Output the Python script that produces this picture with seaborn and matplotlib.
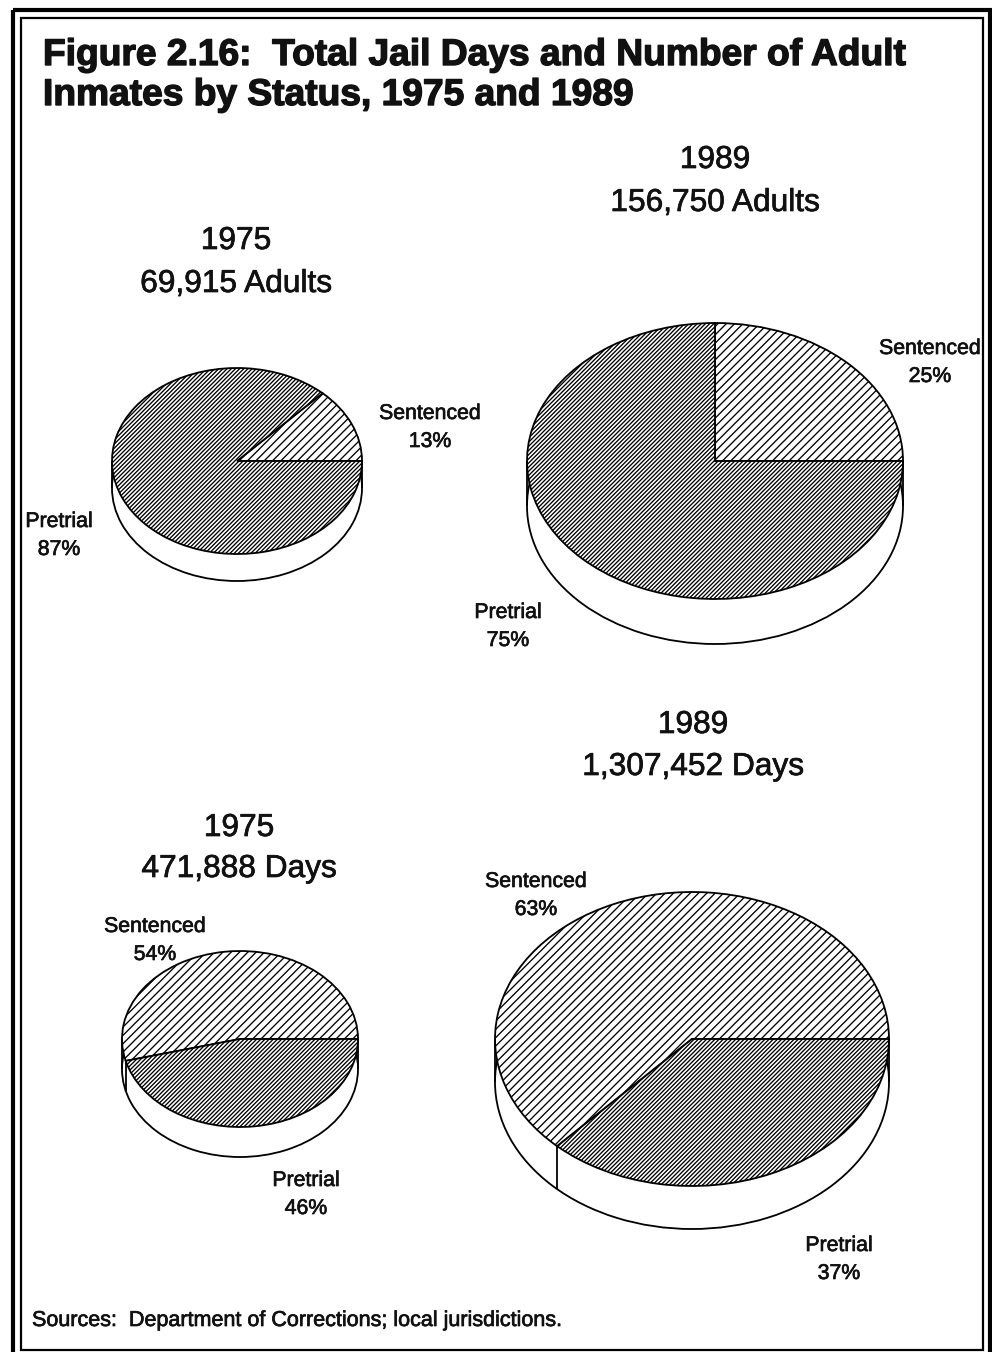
"""
Figure 2.16: jail days and adult inmates by status, 1975 and 1989
"""

import matplotlib

matplotlib.use("Agg")
import matplotlib.patheffects as pe
import matplotlib.pyplot as plt
import numpy as np
import seaborn as sns
from matplotlib.patches import Rectangle

# Data
status = ["Sentenced", "Pretrial"]
adults_1975_share = [13, 87]
adults_1989_share = [25, 75]
days_1975_share = [54, 46]
days_1989_share = [63, 37]
adults_1975_total = 69915
adults_1989_total = 156750
days_1975_total = 471888
days_1989_total = 1307452

title_lines = [
    "Figure 2.16:  Total Jail Days and Number of Adult",
    "Inmates by Status, 1975 and 1989",
]
source_note = "Sources:  Department of Corrections; local jurisdictions."

W, H = 992, 1352
FONT = "Liberation Sans"
INK = "#111111"

sns.set_theme(style="white")
plt.rcParams["font.family"] = [FONT, "DejaVu Sans"]
plt.rcParams["hatch.linewidth"] = 0.95

fig = plt.figure(figsize=(W / 100, H / 100), dpi=100, facecolor="white")

# Page axes in pixel units, for the frame and the text
page = fig.add_axes([0, 0, 1, 1], zorder=0)
page.set_xlim(0, W)
page.set_ylim(H, 0)
page.axis("off")

# scanned text looks a little heavier than the plain font
thick = [pe.withStroke(linewidth=0.5, foreground=INK)]
thick_title = [pe.withStroke(linewidth=1.0, foreground=INK)]


def draw_pie(values, cx, cy, rx, ry, depth):
    """Flat pie with a white rim below it, squashed to an ellipse"""
    ax = fig.add_axes(
        [(cx - rx) / W, 1 - (cy + ry) / H, 2 * rx / W, 2 * ry / H],
        zorder=1,
    )
    ax.patch.set_alpha(0)
    drop = depth / ry
    edge = {"edgecolor": "black", "linewidth": 1.3, "clip_on": False}

    # rim first, then the top of the pie over it
    ax.pie([1], center=(0, -drop), colors=["white"], wedgeprops=edge)
    ax.vlines([-1, 1], -drop, 0, color="black", lw=1.3, clip_on=False)
    angles = np.cumsum(values) / np.sum(values) * 2 * np.pi
    for angle in angles[:-1]:
        if np.sin(angle) < 0:
            y = np.sin(angle)
            ax.vlines(np.cos(angle), y - drop, y, color="black", lw=1.3, clip_on=False)
    wedges, _ = ax.pie(
        values,
        colors=["white", "white"],
        hatch=["////", "////////"],
        startangle=0,
        wedgeprops=edge,
    )
    ax.set_aspect("auto")
    ax.set_xlim(-1, 1)
    ax.set_ylim(-1, 1)
    ax.axis("off")
    return wedges


def heading(x, y, year, total, unit, gap=43):
    page.text(x, y, f"{year}", ha="center", va="baseline", fontsize=22.8,
              color=INK, path_effects=thick)
    page.text(x, y + gap, f"{total:,} {unit}", ha="center", va="baseline",
              fontsize=22.8, color=INK, path_effects=thick)


def label(x, y, name, share):
    page.text(x, y, name, ha="center", va="baseline", fontsize=15.3, color=INK,
              path_effects=thick)
    page.text(x, y + 28, f"{share}%", ha="center", va="baseline", fontsize=15.3,
              color=INK, path_effects=thick)


# Frame, the outer one runs off the bottom of the page
page.add_patch(Rectangle((13, 10), 977, 1360, fill=False, ec="black", lw=3))
page.add_patch(Rectangle((21, 18), 962, 1332, fill=False, ec="black", lw=1.6))

# Title and source
for line, y in zip(title_lines, [65, 105]):
    page.text(43, y, line, fontsize=26.75, fontweight="bold", va="baseline",
              color=INK, path_effects=thick_title)
page.text(32, 1326, source_note, fontsize=15.5, va="baseline", color=INK,
          path_effects=thick)

# Pies
draw_pie(adults_1975_share, 237, 461, 125, 93, 27)
draw_pie(adults_1989_share, 715, 461, 188, 138, 45)
draw_pie(days_1975_share, 240, 1039, 118, 88, 30)
draw_pie(days_1989_share, 692, 1039, 197, 147, 43)

heading(236, 249, 1975, adults_1975_total, "Adults")
heading(715, 168, 1989, adults_1989_total, "Adults")
heading(239, 836, 1975, days_1975_total, "Days", gap=41)
heading(693, 733, 1989, days_1989_total, "Days", gap=42)

label(430, 419, status[0], adults_1975_share[0])
label(59, 527, status[1], adults_1975_share[1])
label(930, 354, status[0], adults_1989_share[0])
label(508, 618, status[1], adults_1989_share[1])
label(155, 932, status[0], days_1975_share[0])
label(306, 1186, status[1], days_1975_share[1])
label(536, 887, status[0], days_1989_share[0])
label(839, 1251, status[1], days_1989_share[1])

fig.savefig("out.png", dpi=100, facecolor="white")
plt.close(fig)
